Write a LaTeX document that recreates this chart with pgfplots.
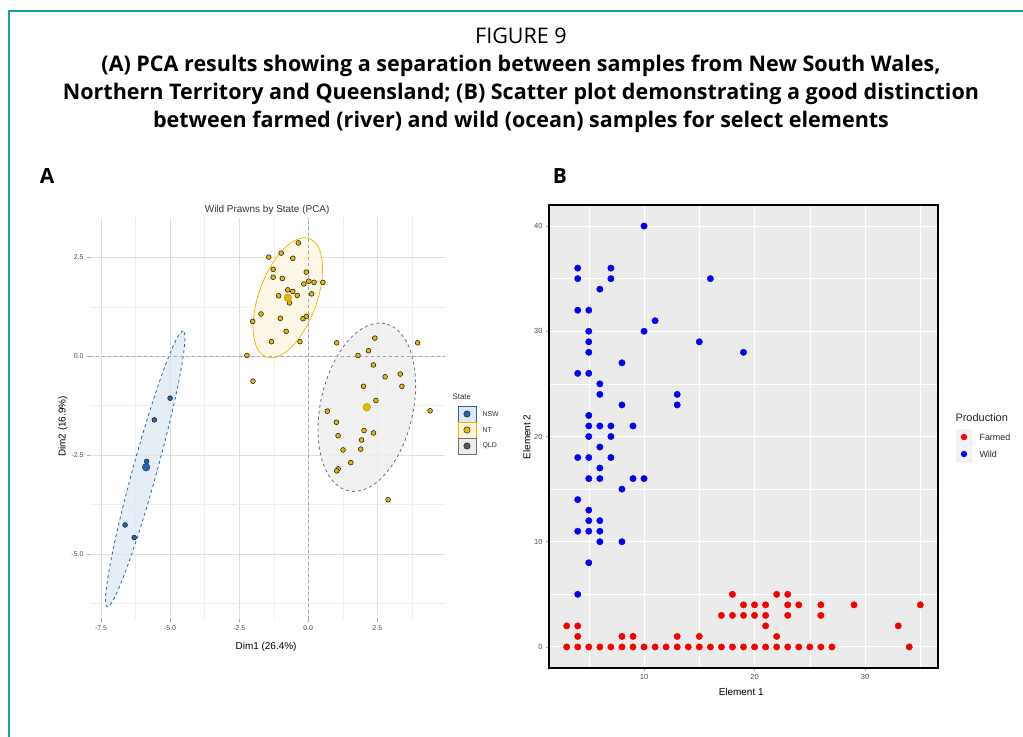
\documentclass[border=0pt]{standalone}
\usepackage{fontspec}
\setmainfont{Liberation Sans}
\newfontfamily\capfont{Open Sans}
\usepackage{pgfplots}
\pgfplotsset{compat=1.18}
\definecolor{frameteal}{RGB}{24,162,152}
\definecolor{nswblue}{RGB}{36,104,172}
\definecolor{ntgold}{RGB}{231,184,0}
\definecolor{qldgrey}{RGB}{110,110,110}
\definecolor{panelgrey}{RGB}{235,235,235}
\definecolor{ticklab}{RGB}{77,77,77}

\begin{document}
\begin{tikzpicture}[x=1bp,y=1bp]
\useasboundingbox (0,0) rectangle (1023,737);
\draw[frameteal, line width=1.5bp] (1030,726) -- (9,726) -- (9,-5);

% caption
\node[font=\capfont\fontsize{21.6}{25}\selectfont, anchor=base] at (521,693) {FIGURE 9};
\node[font=\capfont\bfseries\fontsize{21.6}{25}\selectfont, anchor=base] at (521,665) {(A) PCA results showing a separation between samples from New South Wales,};
\node[font=\capfont\bfseries\fontsize{21.6}{25}\selectfont, anchor=base] at (521,637) {Northern Territory and Queensland; (B) Scatter plot demonstrating a good distinction};
\node[font=\capfont\bfseries\fontsize{21.6}{25}\selectfont, anchor=base] at (521,609) {between farmed (river) and wild (ocean) samples for select elements};
\node[font=\capfont\bfseries\fontsize{21}{24}\selectfont] at (47,561) {A};
\node[font=\capfont\bfseries\fontsize{21}{24}\selectfont] at (560,561) {B};

% panel A: PCA
\begin{axis}[
    at={(90bp,118bp)}, anchor=south west,
    scale only axis, width=355bp, height=401bp,
    xmin=-7.9, xmax=4.95, ymin=-6.65, ymax=3.5,
    axis line style={draw=none},
    xtick={-7.5,-5,-2.5,0,2.5}, xticklabels={-7.5,-5.0,-2.5,0.0,2.5},
    ytick={-5,-2.5,0,2.5}, yticklabels={-5.0,-2.5,0.0,2.5},
    minor xtick={-6.25,-3.75,-1.25,1.25,3.75},
    minor ytick={-6.25,-3.75,-1.25,1.25},
    xmajorgrids, ymajorgrids, xminorgrids, yminorgrids,
    major grid style={gray!25, line width=0.6bp},
    minor grid style={gray!13, line width=0.4bp},
    tick align=outside, xtick pos=bottom, ytick pos=left,
    major tick length=3bp, minor tick length=0bp,
    tick style={gray!70, line width=0.5bp},
    every tick label/.append style={font=\fontsize{7}{8}\selectfont, text=ticklab},
    xlabel={Dim1 (26.4\%)}, ylabel={Dim2 (16.9\%)},
    label style={font=\fontsize{9}{10}\selectfont, text=black!80},
    every axis x label/.style={at={(axis description cs:0.496,-0.07)}, anchor=center},
    every axis y label/.style={at={(axis description cs:-0.076,0.48)}, anchor=center, rotate=90},
    title={Wild Prawns by State (PCA)},
    title style={font=\fontsize{10}{12}\selectfont, text=black!80, at={(axis description cs:0.499,1.005)}, anchor=center},
]
% confidence ellipses
\draw[nswblue, dashed, line width=0.8bp, fill=nswblue!15, fill opacity=0.8]
    [rotate around={74.6:(axis cs:-5.9,-2.85)}] (axis cs:-5.9,-2.85) ellipse [x radius=143bp, y radius=12bp];
\draw[ntgold, line width=0.7bp, fill=ntgold!12, fill opacity=0.8]
    [rotate around={70:(axis cs:-0.74,1.48)}] (axis cs:-0.74,1.48) ellipse [x radius=63bp, y radius=29bp];
\draw[qldgrey, dashed, line width=0.8bp, fill=gray!13, fill opacity=0.8]
    [rotate around={77.6:(axis cs:2.12,-1.29)}] (axis cs:2.12,-1.29) ellipse [x radius=85.6bp, y radius=46.3bp];
% reference lines
\draw[gray!70, dashed, line width=0.8bp] (axis cs:0,-6.65) -- (axis cs:0,3.5);
\draw[gray!70, dashed, line width=0.8bp] (axis cs:-7.9,0) -- (axis cs:4.95,0);
% NT
\addplot[only marks, mark=*, mark size=2.4bp, mark options={fill=ntgold, draw=black!85, line width=0.6bp}]
coordinates {(-0.36,2.87)(-1.43,2.51)(-0.98,2.61)(-0.56,2.48)(-1.27,2.20)(-1.27,2.00)(-0.94,1.97)
(-0.07,2.13)(-0.16,1.83)(0.02,1.90)(0.21,1.87)(0.53,1.87)(-0.74,1.68)(-0.56,1.64)(-1.07,1.53)
(-0.68,1.35)(-0.40,1.54)(0.12,1.58)(-1.71,1.07)(-1.01,0.96)(-2.01,0.88)(-0.19,0.95)(-0.07,1.01)
(-0.80,0.63)(-1.33,0.37)(-0.30,0.37)(-2.22,0.02)(-2.00,-0.63)};
% QLD
\addplot[only marks, mark=*, mark size=2.4bp, mark options={fill=ntgold, draw=black!85, line width=0.6bp}]
coordinates {(2.41,0.46)(1.03,0.34)(2.18,0.14)(1.80,0.02)(2.36,-0.22)(2.78,-0.52)(3.33,-0.45)
(3.39,-0.76)(2.00,-0.76)(2.45,-1.12)(0.69,-1.39)(4.41,-1.38)(1.02,-1.67)(2.02,-1.88)(2.36,-1.94)
(1.08,-2.01)(1.93,-2.12)(1.26,-2.37)(1.90,-2.35)(1.54,-2.69)(1.08,-2.85)(1.03,-2.90)(2.89,-3.63)(3.96,0.34)};
% NSW
\addplot[only marks, mark=*, mark size=2.4bp, mark options={fill=nswblue, draw=black!85, line width=0.6bp}]
coordinates {(-5.00,-1.06)(-5.57,-1.61)(-5.85,-2.66)(-6.63,-4.27)(-6.30,-4.59)};
% group centroids
\addplot[only marks, mark=*, mark size=3.8bp, mark options={fill=nswblue, draw=nswblue!70!black, line width=0.5bp}]
coordinates {(-5.87,-2.81)};
\addplot[only marks, mark=*, mark size=3.8bp, mark options={fill=ntgold, draw=ntgold!80!black, line width=0.5bp}]
coordinates {(-0.74,1.48)(2.12,-1.29)};
\end{axis}

% legend A
\node[anchor=west, font=\fontsize{8}{9}\selectfont, text=black!80] at (449,340) {State};
\draw[nswblue, fill=nswblue!15, line width=0.6bp] (458,315) rectangle (476,331);
\draw[ntgold, fill=ntgold!15, line width=0.6bp] (458,299) rectangle (476,315);
\draw[qldgrey, fill=gray!15, line width=0.6bp] (458,283) rectangle (476,299);
\fill[nswblue, draw=black!85, line width=0.5bp] (467,323) circle (3.2bp);
\fill[ntgold, draw=black!85, line width=0.5bp] (467,307) circle (3.2bp);
\fill[gray!70!black, draw=black!85, line width=0.5bp] (467,291) circle (3.2bp);
\node[anchor=west, font=\fontsize{7}{8}\selectfont, text=black!80] at (479,323) {NSW};
\node[anchor=west, font=\fontsize{7}{8}\selectfont, text=black!80] at (479,307) {NT};
\node[anchor=west, font=\fontsize{7}{8}\selectfont, text=black!80] at (479,291) {QLD};

% panel B: scatter
\begin{axis}[
    at={(549bp,69bp)}, anchor=south west,
    scale only axis, width=389bp, height=463bp,
    xmin=1.4, xmax=36.6, ymin=-2, ymax=42,
    axis background/.style={fill=panelgrey},
    axis line style={black, line width=1.5bp},
    xtick={10,20,30}, ytick={0,10,20,30,40},
    minor xtick={5,15,25,35}, minor ytick={5,15,25,35},
    xmajorgrids, ymajorgrids, xminorgrids, yminorgrids,
    major grid style={white, line width=1bp},
    minor grid style={white, line width=0.5bp},
    tick align=outside, xtick pos=bottom, ytick pos=left,
    major tick length=3bp, minor tick length=0bp,
    tick style={gray!70, line width=0.5bp},
    /pgf/number format/assume math mode=true,
    every tick label/.append style={font=\fontsize{7.5}{8}\selectfont, text=ticklab},
    xlabel={Element 1}, ylabel={Element 2},
    label style={font=\fontsize{9.5}{10}\selectfont, text=black!85},
    every axis x label/.style={at={(axis description cs:0.494,-0.052)}, anchor=center},
    every axis y label/.style={at={(axis description cs:-0.057,0.499)}, anchor=center, rotate=90},
]
% Farmed
\addplot[only marks, mark=*, mark size=3.2bp, color={rgb,255:red,245;green,0;blue,0}]
coordinates {(3,0)(4,0)(5,0)(6,0)(7,0)(8,0)(9,0)(10,0)(11,0)(12,0)(13,0)(14,0)(15,0)(16,0)(17,0)
(18,0)(19,0)(20,0)(21,0)(22,0)(23,0)(24,0)(25,0)(26,0)(27,0)(34,0)
(4,1)(8,1)(9,1)(13,1)(15,1)(22,1)
(3,2)(4,2)(21,2)(33,2)
(17,3)(18,3)(19,3)(20,3)(21,3)(23,3)(26,3)
(19,4)(20,4)(21,4)(23,4)(24,4)(26,4)(29,4)(35,4)
(18,5)(22,5)(23,5)};
% Wild
\addplot[only marks, mark=*, mark size=3.2bp, color={rgb,255:red,0;green,0;blue,245}]
coordinates {(10,40)(4,36)(4,35)(7,36)(7,35)(6,34)(16,35)(4,32)(5,32)(11,31)(10,30)(5,30)(5,29)
(15,29)(5,28)(19,28)(8,27)(4,26)(5,26)(6,25)(6,24)(13,24)(8,23)(13,23)(5,22)(5,21)(6,21)(7,21)
(9,21)(5,20)(7,20)(6,19)(4,18)(5,18)(7,18)(6,17)(5,16)(6,16)(9,16)(10,16)(8,15)(4,14)(5,13)
(5,12)(6,12)(4,11)(5,11)(6,11)(6,10)(8,10)(5,8)(4,5)};
\end{axis}

% legend B (cut at the right edge as in the reference)
\begin{scope}
\clip (940,260) rectangle (1009,335);
\node[anchor=west, font=\fontsize{11}{12}\selectfont, text=black!85] at (952,319) {Production};
\fill[gray!10] (956,291) rectangle (972,308);
\fill[gray!10] (956,274) rectangle (972,291);
\fill[red] (964,300) circle (3.2bp);
\fill[blue] (964,283) circle (3.2bp);
\node[anchor=west, font=\fontsize{9}{10}\selectfont, text=black!85] at (976,300) {Farmed};
\node[anchor=west, font=\fontsize{9}{10}\selectfont, text=black!85] at (976,283) {Wild};
\end{scope}
\end{tikzpicture}
\end{document}
